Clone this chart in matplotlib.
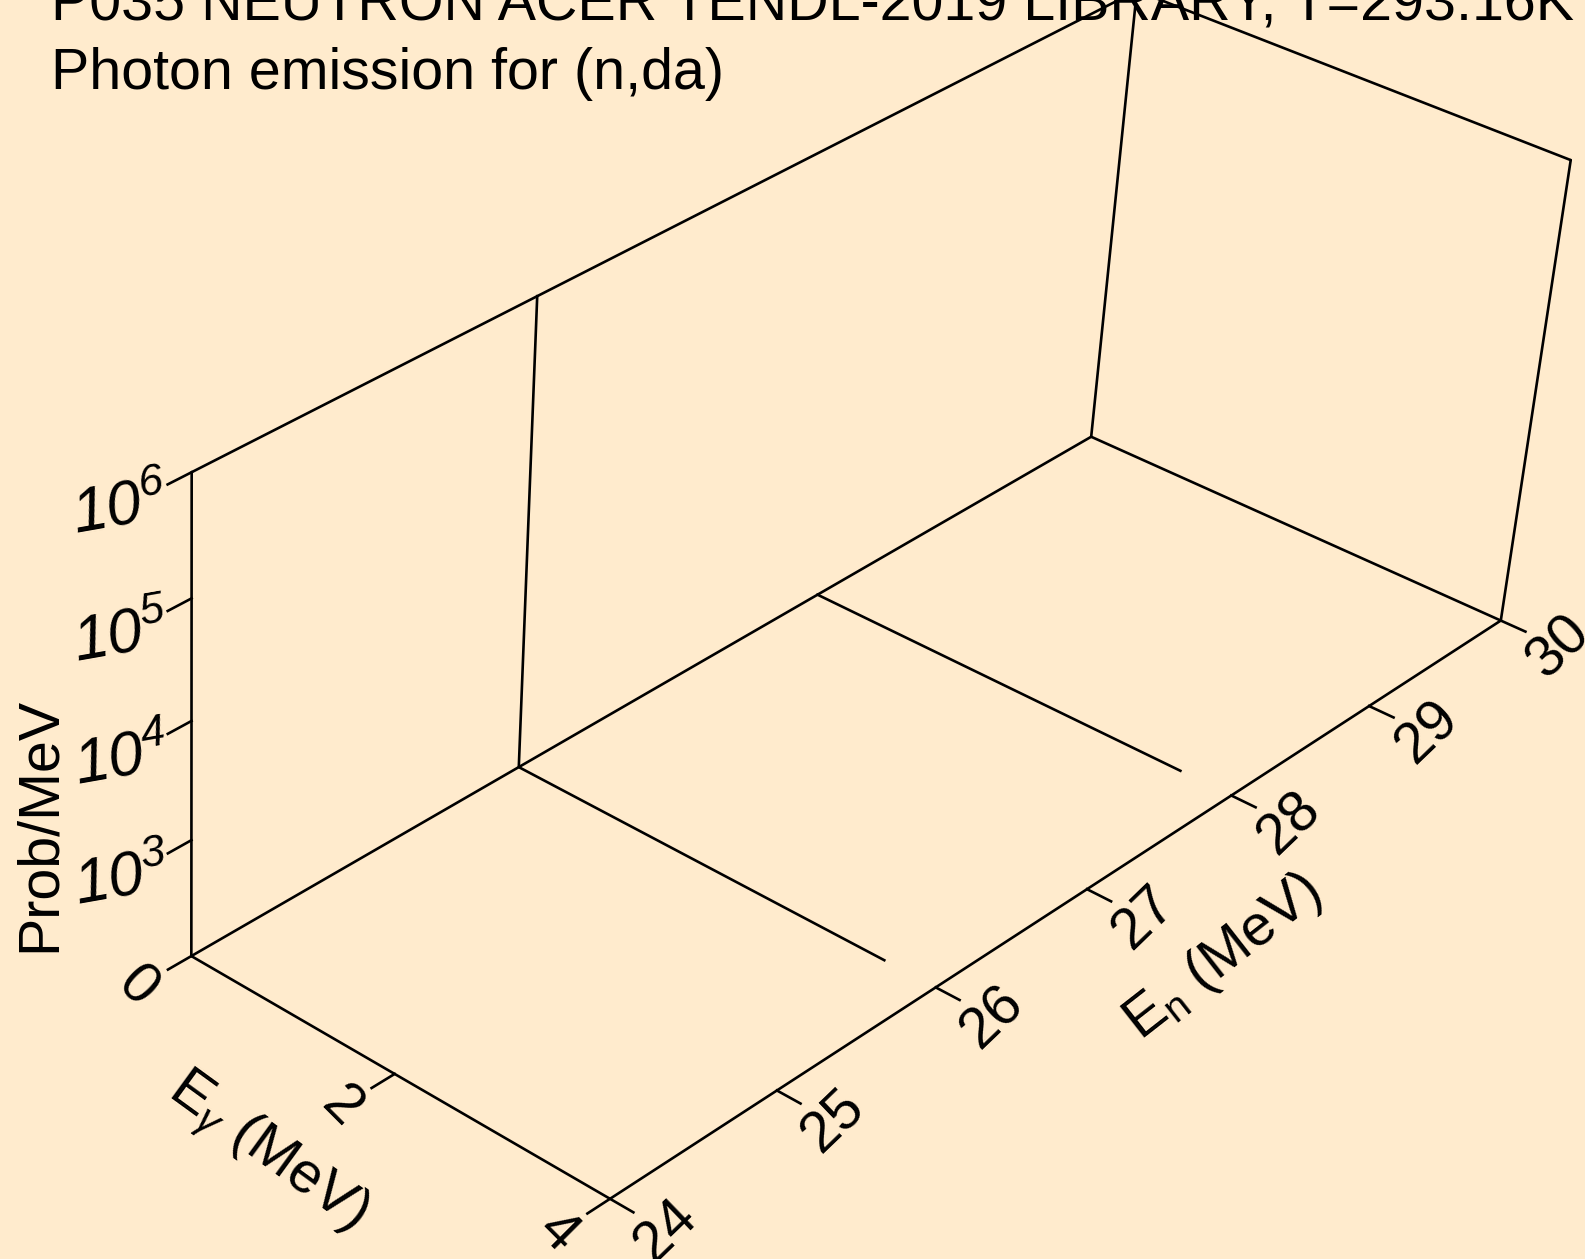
import numpy as np
import matplotlib as mpl
from matplotlib import pyplot as plt

mpl.rcParams['font.family'] = ['Liberation Sans', 'DejaVu Sans']
mpl.rcParams['mathtext.fontset'] = 'custom'
mpl.rcParams['mathtext.rm'] = 'Liberation Sans:italic'
mpl.rcParams['mathtext.it'] = 'Liberation Sans:italic'
mpl.rcParams['mathtext.sf'] = 'Liberation Sans'

title1 = 'P035 NEUTRON ACER TENDL-2019 LIBRARY, T=293.16K'
title2 = 'Photon emission for (n,da)'

# axis ranges
eg_min, eg_max = 0.0, 4.0          # E gamma (MeV)
en_min, en_max = 24.0, 30.0        # E n (MeV)
logp_min, logp_max = 2.0, 6.0      # log10 Prob/MeV

eg_ticks = [0, 2, 4]
en_ticks = [24, 25, 26, 27, 28, 29, 30]
logp_ticks = [3, 4, 5, 6]

# spectra, one per incident energy (values below 1e2 sit on the floor)
en_curves = [26.0, 28.0]
eg_curve_26 = [0.0, 0.0, 3.53]
prob_curve_26 = [2.0e6, 0.0, 0.0]
eg_curve_28 = [0.0, 3.53]
prob_curve_28 = [0.0, 0.0]

bg = '#FFEBCD'

# camera: fitted from where the box corners land on the page (pixels)
box_uvw = np.array([[0, 0, 0], [1, 0, 0], [1, 1, 0], [0, 1, 0],
                    [0, 0, 1], [1, 1, 1], [0.5, 0, 0]], dtype=float)
box_px = np.array([[191.7, 956.0], [610.7, 1198.7], [1500.7, 620.7],
                   [1091.3, 436.7], [191.7, 472.3], [1570.7, 160.0],
                   [393.6, 1074.0]])


def fit_camera(uvw, px):
    s = 1000.0
    rows = []
    for (X, Y, Z), (x, y) in zip(uvw, px / s):
        rows.append([X, Y, Z, 1, 0, 0, 0, 0, -x*X, -x*Y, -x*Z, -x])
        rows.append([0, 0, 0, 0, X, Y, Z, 1, -y*X, -y*Y, -y*Z, -y])
    _, _, vt = np.linalg.svd(np.array(rows))
    P = vt[-1].reshape(3, 4)
    P[:2] *= s
    return P


P = fit_camera(box_uvw, box_px)


def project(u, v, w):
    u, v, w = np.broadcast_arrays(np.asarray(u, float), np.asarray(v, float), np.asarray(w, float))
    h = P @ np.vstack([u.ravel(), v.ravel(), w.ravel(), np.ones(u.size)])
    return h[0] / h[2], h[1] / h[2]


def to_uvw(eg, en, prob):
    prob = np.asarray(prob, float)
    lp = np.log10(np.maximum(prob, 10**logp_min))
    lp = np.clip(lp, logp_min, logp_max)
    u = (np.asarray(eg, float) - eg_min) / (eg_max - eg_min)
    v = (np.asarray(en, float) - en_min) / (en_max - en_min) * np.ones_like(u)
    w = (lp - logp_min) / (logp_max - logp_min)
    return u, v, w


def pt(u, v, w):
    x, y = project(u, v, w)
    return np.array([x[0], y[0]])


def unit(a):
    return a / np.hypot(*a)


fig = plt.figure(figsize=(15.85, 12.59), dpi=100, facecolor=bg)
ax = fig.add_axes([0, 0, 1, 1])
ax.set_xlim(0, 1585)
ax.set_ylim(1259, 0)
ax.axis('off')

lw = 1.9
# box edges
edges = [((0, 0, 0), (1, 0, 0)), ((1, 0, 0), (1, 1, 0)), ((0, 0, 0), (0, 0, 1)),
         ((0, 0, 0), (0, 1, 0)), ((0, 1, 0), (1, 1, 0)), ((0, 1, 0), (0, 1, 1)),
         ((1, 1, 0), (1, 1, 1)), ((0, 0, 1), (0, 1, 1)), ((0, 1, 1), (1, 1, 1))]
for a, b in edges:
    x, y = project([a[0], b[0]], [a[1], b[1]], [a[2], b[2]])
    ax.plot(x, y, color='black', lw=lw, solid_capstyle='round')

tick_len = 27
fs = 41.3

# E gamma axis
for t in eg_ticks:
    u = (t - eg_min) / (eg_max - eg_min)
    base = pt(u, 0, 0)
    d = unit(pt(u, -0.05, 0) - base)
    end = base + d * tick_len
    ax.plot([base[0], end[0]], [base[1], end[1]], color='black', lw=lw)
    lab = base + d * 63
    ax.text(lab[0], lab[1], str(t), fontsize=fs, rotation=-45,
            ha='center', va='center', rotation_mode='anchor')
base = pt(0.5, 0, 0)
d = unit(pt(0.5, -0.05, 0) - base)
lab = base + d * 150
ax.text(lab[0], lab[1], r'E$_\gamma$ (MeV)', fontsize=fs, rotation=-36,
        ha='center', va='center', rotation_mode='anchor')

# E n axis
for t in en_ticks:
    v = (t - en_min) / (en_max - en_min)
    base = pt(1, v, 0)
    d = unit(pt(1.05, v, 0) - base)
    end = base + d * tick_len
    ax.plot([base[0], end[0]], [base[1], end[1]], color='black', lw=lw)
    lab = base + d * 64
    ax.text(lab[0], lab[1], str(t), fontsize=fs, rotation=44,
            ha='center', va='center', rotation_mode='anchor')
base = pt(1, 0.5, 0)
d = unit(pt(1.05, 0.5, 0) - base)
lab = base + d * 152
ax.text(lab[0], lab[1], r'E$_\mathsf{n}$ (MeV)', fontsize=fs, rotation=38,
        ha='center', va='center', rotation_mode='anchor')

# Prob axis
for t in logp_ticks:
    w = (t - logp_min) / (logp_max - logp_min)
    base = pt(0, 0, w)
    d = unit(pt(0, -0.05, w) - base)
    end = base + d * tick_len
    ax.plot([base[0], end[0]], [base[1], end[1]], color='black', lw=lw)
    lab = base + d * 80
    ax.text(lab[0], lab[1], r'$10^{%d}$' % t, fontsize=45, rotation=10,
            ha='center', va='center', rotation_mode='anchor')
ax.text(40, 824, 'Prob/MeV', fontsize=fs, rotation=90, ha='center', va='center')

# spectra
for en, eg, prob in [(en_curves[0], eg_curve_26, prob_curve_26),
                     (en_curves[1], eg_curve_28, prob_curve_28)]:
    u, v, w = to_uvw(eg, en, prob)
    x, y = project(u, v, w)
    ax.plot(x, y, color='black', lw=lw)

ax.text(51, 20, title1, fontsize=fs, ha='left', va='baseline')
ax.text(51, 89, title2, fontsize=fs, ha='left', va='baseline')

fig.savefig('out.png', dpi=100, facecolor=fig.get_facecolor())
